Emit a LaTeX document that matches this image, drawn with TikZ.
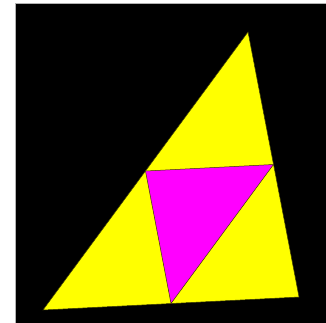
\documentclass[tikz,border=0pt]{standalone}
\usetikzlibrary{calc}
\definecolor{ryellow}{RGB}{255,255,0}
\definecolor{rmagenta}{RGB}{255,0,255}
\definecolor{edge}{RGB}{60,60,0}
\begin{document}
\begin{tikzpicture}[x=1pt,y=-1pt,
  tri/.style={draw=edge, line width=0.5pt, line join=miter}]
\useasboundingbox (0,0) rectangle (326,322);
\fill[white] (0,0) rectangle (326,322);
\draw[draw=gray!60, fill=black, line width=0.8pt] (15.5,3.5) rectangle (330,330);
\coordinate (A) at (248,32);
\coordinate (B) at (43,310);
\coordinate (C) at (299,297);
\coordinate (AB) at ($(A)!0.5!(B)$);
\coordinate (AC) at ($(A)!0.5!(C)$);
\coordinate (BC) at ($(B)!0.5!(C)$);
\path[tri, fill=ryellow] (A) -- (B) -- (C) -- cycle;
\path[tri, fill=rmagenta] (AB) -- (AC) -- (BC) -- cycle;
\end{tikzpicture}
\end{document}
